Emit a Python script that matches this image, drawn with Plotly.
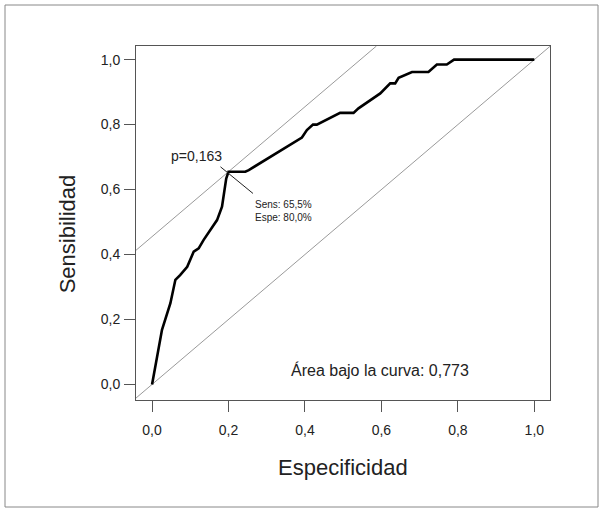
import plotly.graph_objects as go

# ROC curve
fpr = [0, 0.011, 0.02, 0.026, 0.048, 0.061, 0.074, 0.092, 0.109, 0.122, 0.135, 0.152,
       0.17, 0.183, 0.194, 0.2, 0.244, 0.253, 0.392, 0.405, 0.421, 0.431, 0.457, 0.492,
       0.527, 0.54, 0.597, 0.623, 0.636, 0.645, 0.68, 0.723, 0.745, 0.771, 0.79, 1.0]
tpr = [0, 0.075, 0.137, 0.168, 0.25, 0.322, 0.337, 0.362, 0.409, 0.419, 0.445, 0.475,
       0.506, 0.547, 0.634, 0.655, 0.655, 0.66, 0.76, 0.783, 0.80, 0.80, 0.816, 0.836,
       0.836, 0.85, 0.896, 0.927, 0.927, 0.944, 0.962, 0.962, 0.985, 0.985, 1.0, 1.0]

opt_x = 0.20      # 1 - especificidad at cut-off
opt_y = 0.655     # sensibilidad at cut-off
youden = opt_y - opt_x  # 0.455
cutoff_label = "p=0,163"
sens_label = "Sens: 65,5%"
espe_label = "Espe: 80,0%"
auc_label = "Área bajo la curva: 0,773"

tick_vals = [0, 0.2, 0.4, 0.6, 0.8, 1.0]
tick_text = ["0,0", "0,2", "0,4", "0,6", "0,8", "1,0"]

XR = [-0.042, 1.041]
YR = [-0.048, 1.042]

FONT = "Liberation Sans Narrow, Arial Narrow, Liberation Sans, Arial, sans-serif"
TXT = "#222"

fig = go.Figure()

# reference diagonal y = x
fig.add_trace(go.Scatter(x=[XR[0], XR[1]], y=[XR[0], XR[1]], mode="lines",
                         line=dict(color="#9a9a9a", width=1), hoverinfo="skip"))
# tangent line through optimal point (y = x + youden)
fig.add_trace(go.Scatter(x=[XR[0], YR[1] - youden], y=[XR[0] + youden, YR[1]], mode="lines",
                         line=dict(color="#9a9a9a", width=1), hoverinfo="skip"))
# ROC curve
fig.add_trace(go.Scatter(x=fpr, y=tpr, mode="lines",
                         line=dict(color="black", width=2.6), hoverinfo="skip"))
# pointer line through the optimal point
fig.add_trace(go.Scatter(x=[opt_x - 0.021, opt_x + 0.064], y=[opt_y + 0.015, opt_y - 0.067],
                         mode="lines", line=dict(color="#222", width=1), hoverinfo="skip"))

ann = [
    dict(x=opt_x - 0.084, y=opt_y + 0.047, text=cutoff_label, showarrow=False,
         font=dict(size=14, family=FONT, color=TXT), xanchor="center", yanchor="middle"),
    dict(x=opt_x + 0.064, y=opt_y - 0.078, text=sens_label + "<br>" + espe_label, showarrow=False,
         align="left", font=dict(size=10, family=FONT, color=TXT),
         xanchor="left", yanchor="top"),
    dict(x=0.597, y=0.045, text=auc_label, showarrow=False,
         font=dict(size=16, family=FONT, color=TXT), xanchor="center", yanchor="middle"),
    dict(x=0.5, xref="paper", y=-0.19, yref="paper", text="Especificidad", showarrow=False,
         font=dict(size=22, family=FONT, color=TXT), xanchor="center", yanchor="middle"),
    dict(x=-0.165, xref="paper", y=0.47, yref="paper", text="Sensibilidad", showarrow=False,
         textangle=-90, font=dict(size=22, family=FONT, color=TXT),
         xanchor="center", yanchor="middle"),
]

axis_common = dict(showgrid=False, zeroline=False, showline=True, linecolor="#555",
                   linewidth=1, mirror=True, ticks="outside", ticklen=11, tickcolor="#555",
                   tickwidth=1, tickvals=tick_vals, ticktext=tick_text,
                   tickfont=dict(size=14, family=FONT, color=TXT))

fig.update_layout(
    width=603, height=512,
    margin=dict(l=136, r=53, t=46, b=112),
    paper_bgcolor="white", plot_bgcolor="white",
    showlegend=False,
    xaxis=dict(range=XR, ticklabelstandoff=6, **axis_common),
    yaxis=dict(range=YR, ticklabelstandoff=1, **axis_common),
    annotations=ann,
    shapes=[dict(type="rect", xref="paper", yref="paper",
                 x0=(5 - 136) / 414, x1=(598 - 136) / 414,
                 y0=(400 - 507) / 354, y1=(400 - 5) / 354,
                 line=dict(color="#888", width=1), layer="below")],
)

fig.write_html("out.html", config={"displayModeBar": False},
               post_script="document.body.style.margin='0';document.body.style.overflow='hidden';")
